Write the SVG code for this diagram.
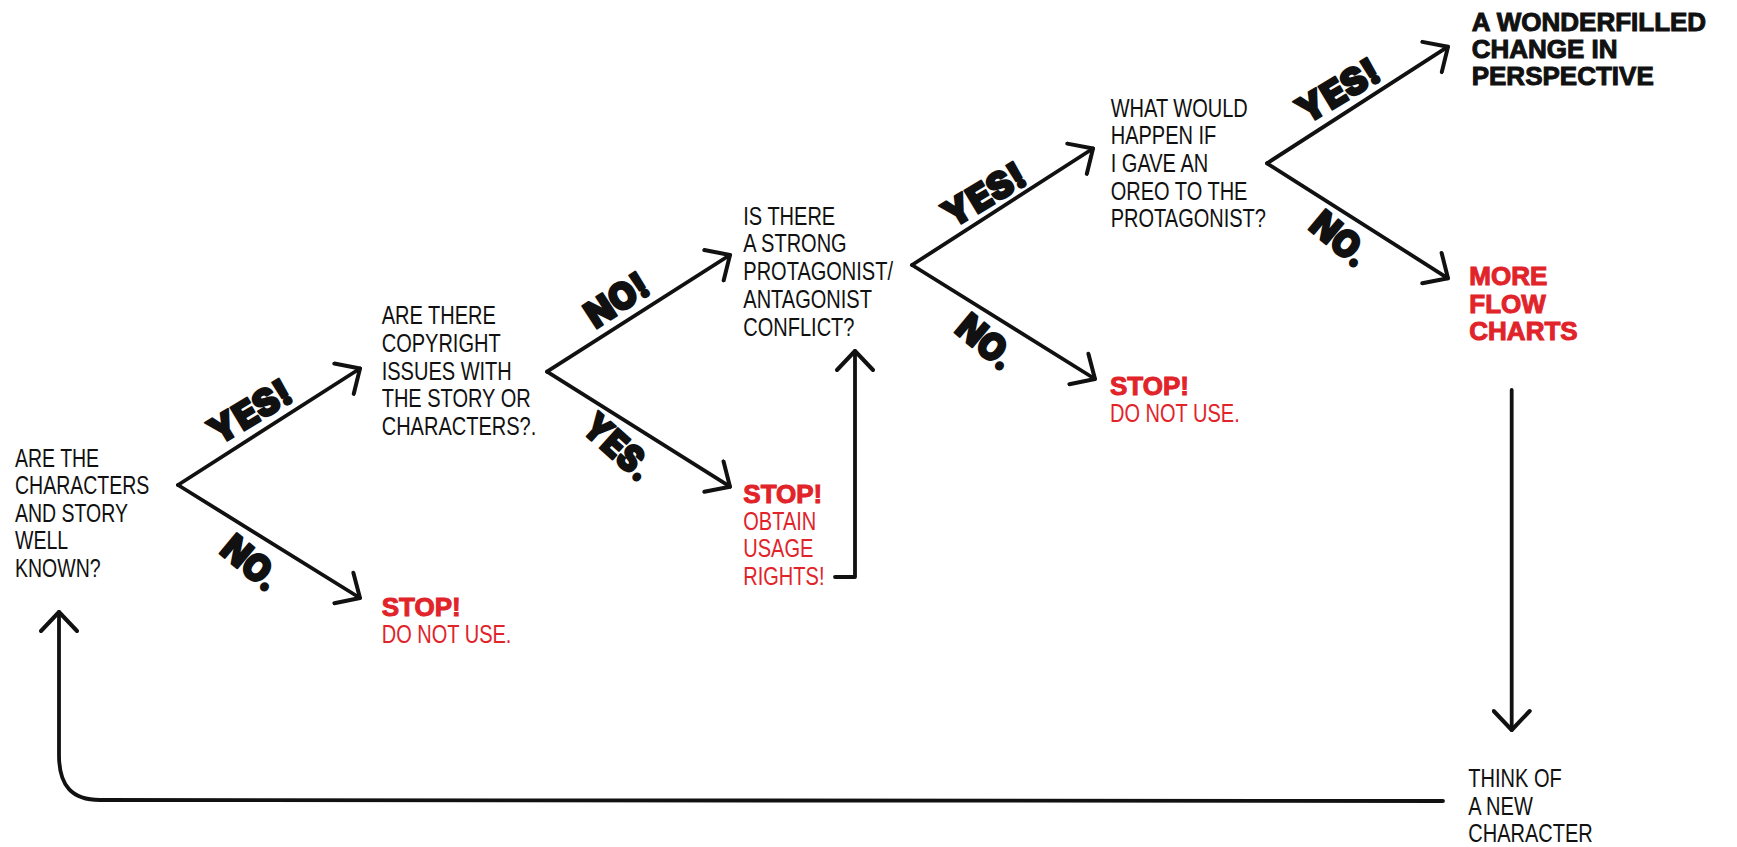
<svg xmlns="http://www.w3.org/2000/svg" width="1737" height="847" viewBox="0 0 1737 847">
  <defs>
    <marker id="ah" viewBox="-22 -20 26 40" markerWidth="26" markerHeight="40" refX="0" refY="0" orient="auto" markerUnits="userSpaceOnUse">
      <path d="M-19,-18 L0,0 L-19,18" fill="none" stroke="#111" stroke-width="4" stroke-linecap="round" stroke-linejoin="round"/>
    </marker>
    <style>
      .hw { font-family: "Liberation Sans", Arial, sans-serif; font-size: 26px; fill: #111; }
      .hwr { font-family: "Liberation Sans", Arial, sans-serif; font-size: 26px; fill: #e1232a; }
      .bk { font-family: "Liberation Sans", Arial, sans-serif; font-size: 26px; font-weight: 700; fill: #111; stroke: #111; stroke-width: 1; }
      .rd { font-family: "Liberation Sans", Arial, sans-serif; font-size: 26px; font-weight: 700; fill: #e1232a; stroke: #e1232a; stroke-width: 1; }
      .lbl { font-family: Inter, "Liberation Sans", Arial, sans-serif; font-size: 37px; font-weight: 900; fill: #111; stroke: #111; stroke-width: 2; stroke-linejoin: round; text-anchor: middle; }
      .ln { fill: none; stroke: #111; stroke-width: 3.8; stroke-linecap: round; stroke-linejoin: round; }
    </style>
  </defs>
  <rect width="1737" height="847" fill="#fff"/>

  <g id="connectors">
    <path class="ln" d="M178,485 L360,368.5" marker-end="url(#ah)"/>
    <path class="ln" d="M178,485 L360,598" marker-end="url(#ah)"/>
    <path class="ln" d="M547,371.7 L730,255" marker-end="url(#ah)"/>
    <path class="ln" d="M547,371.7 L730,486.7" marker-end="url(#ah)"/>
    <path class="ln" d="M912,265 L1093,148.5" marker-end="url(#ah)"/>
    <path class="ln" d="M912,265 L1095,379" marker-end="url(#ah)"/>
    <path class="ln" d="M1267,163.3 L1448,46.7" marker-end="url(#ah)"/>
    <path class="ln" d="M1267,163.3 L1448,278.3" marker-end="url(#ah)"/>
    <path class="ln" d="M835,577 L855,577 L855,351" marker-end="url(#ah)"/>
    <path class="ln" d="M1511.7,390 L1511.7,730" marker-end="url(#ah)"/>
    <path class="ln" d="M1443,801 L100,800 C72,800 59,786 59,755 L59,612" marker-end="url(#ah)"/>
  </g>

  <g id="labels">
    <g transform="translate(250,412) rotate(-31)"><text class="lbl" x="0" y="13" textLength="90" lengthAdjust="spacingAndGlyphs">YES!</text></g>
    <g transform="translate(251,563) rotate(40)"><text class="lbl" x="0" y="13" textLength="64" lengthAdjust="spacingAndGlyphs">NO.</text></g>
    <g transform="translate(617,300) rotate(-33)"><text class="lbl" x="0" y="13" textLength="68" lengthAdjust="spacingAndGlyphs">NO!</text></g>
    <g transform="translate(618,447) rotate(42)"><text class="lbl" x="0" y="13" textLength="80" lengthAdjust="spacingAndGlyphs">YES.</text></g>
    <g transform="translate(984,195) rotate(-31)"><text class="lbl" x="0" y="13" textLength="90" lengthAdjust="spacingAndGlyphs">YES!</text></g>
    <g transform="translate(986,342) rotate(40)"><text class="lbl" x="0" y="13" textLength="64" lengthAdjust="spacingAndGlyphs">NO.</text></g>
    <g transform="translate(1338,91) rotate(-31)"><text class="lbl" x="0" y="13" textLength="90" lengthAdjust="spacingAndGlyphs">YES!</text></g>
    <g transform="translate(1340,239) rotate(40)"><text class="lbl" x="0" y="13" textLength="64" lengthAdjust="spacingAndGlyphs">NO.</text></g>
  </g>

  <g id="node-well-known" transform="translate(15,0) scale(0.75,1)">
    <text class="hw" x="0" y="467">ARE THE</text>
    <text class="hw" x="0" y="494.5">CHARACTERS</text>
    <text class="hw" x="0" y="522">AND STORY</text>
    <text class="hw" x="0" y="549.5">WELL</text>
    <text class="hw" x="0" y="577">KNOWN?</text>
  </g>

  <g id="node-copyright" transform="translate(381.7,0) scale(0.77,1)">
    <text class="hw" x="0" y="324">ARE THERE</text>
    <text class="hw" x="0" y="352">COPYRIGHT</text>
    <text class="hw" x="0" y="380">ISSUES WITH</text>
    <text class="hw" x="0" y="407.5">THE STORY OR</text>
    <text class="hw" x="0" y="435">CHARACTERS?.</text>
  </g>

  <g id="node-stop-1">
    <text class="rd" x="381.7" y="616">STOP!</text>
    <g transform="translate(381.7,0) scale(0.77,1)">
      <text class="hwr" x="0" y="642.7">DO NOT USE.</text>
    </g>
  </g>

  <g id="node-conflict" transform="translate(743.3,0) scale(0.77,1)">
    <text class="hw" x="0" y="225">IS THERE</text>
    <text class="hw" x="0" y="252">A STRONG</text>
    <text class="hw" x="0" y="280">PROTAGONIST/</text>
    <text class="hw" x="0" y="307.7">ANTAGONIST</text>
    <text class="hw" x="0" y="335.7">CONFLICT?</text>
  </g>

  <g id="node-stop-rights">
    <text class="rd" x="743.3" y="502.7">STOP!</text>
    <g transform="translate(743.3,0) scale(0.77,1)">
      <text class="hwr" x="0" y="530">OBTAIN</text>
      <text class="hwr" x="0" y="557.3">USAGE</text>
      <text class="hwr" x="0" y="585">RIGHTS!</text>
    </g>
  </g>

  <g id="node-oreo" transform="translate(1110.7,0) scale(0.77,1)">
    <text class="hw" x="0" y="116.7">WHAT WOULD</text>
    <text class="hw" x="0" y="144">HAPPEN IF</text>
    <text class="hw" x="0" y="171.7">I GAVE AN</text>
    <text class="hw" x="0" y="200">OREO TO THE</text>
    <text class="hw" x="0" y="227.3">PROTAGONIST?</text>
  </g>

  <g id="node-stop-2">
    <text class="rd" x="1110" y="395">STOP!</text>
    <g transform="translate(1110,0) scale(0.77,1)">
      <text class="hwr" x="0" y="421.7">DO NOT USE.</text>
    </g>
  </g>

  <g id="node-wonderfilled">
    <text class="bk" x="1471.7" y="30.7">A WONDERFILLED</text>
    <text class="bk" x="1471.7" y="58.3">CHANGE IN</text>
    <text class="bk" x="1471.7" y="85">PERSPECTIVE</text>
  </g>

  <g id="node-more-flow-charts">
    <text class="rd" x="1469.3" y="285">MORE</text>
    <text class="rd" x="1469.3" y="313.3">FLOW</text>
    <text class="rd" x="1469.3" y="340">CHARTS</text>
  </g>

  <g id="node-new-character" transform="translate(1468.3,0) scale(0.77,1)">
    <text class="hw" x="0" y="786.7">THINK OF</text>
    <text class="hw" x="0" y="815">A NEW</text>
    <text class="hw" x="0" y="841.7">CHARACTER</text>
  </g>
</svg>
